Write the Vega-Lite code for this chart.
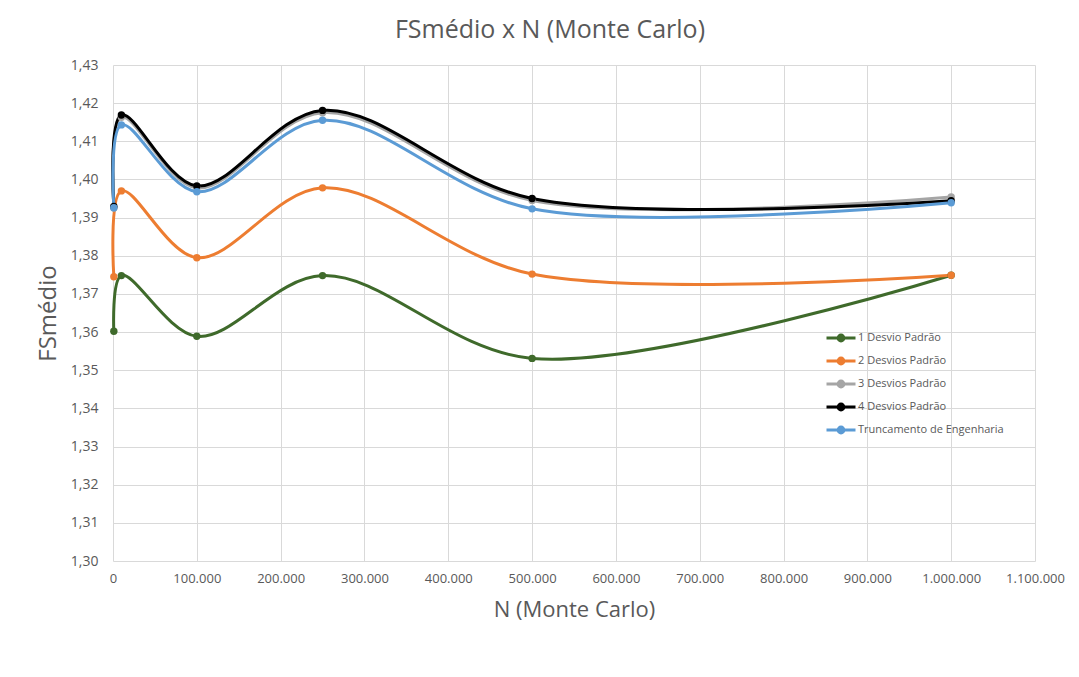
{
  "$schema": "https://vega.github.io/schema/vega-lite/v6.json",
  "width": 922,
  "height": 496,
  "autosize": "none",
  "padding": {"left": 113, "top": 65, "right": 44, "bottom": 116},
  "background": "white",
  "config": {
    "locale": {"number": {"decimal": ",", "thousands": ".", "grouping": [3], "currency": ["R$", ""]}},
    "view": {"stroke": null},
    "font": "Open Sans"
  },
  "title": {
    "text": "FSmédio x N (Monte Carlo)",
    "font": "Open Sans",
    "fontSize": 25,
    "fontWeight": "normal",
    "color": "#595959",
    "dx": -24,
    "offset": 15
  },
  "data": {
    "values": [
      {"N": 1000, "serie": "1 Desvio Padrão", "FS": 1.3602},
      {"N": 10000, "serie": "1 Desvio Padrão", "FS": 1.3748},
      {"N": 100000, "serie": "1 Desvio Padrão", "FS": 1.3589},
      {"N": 250000, "serie": "1 Desvio Padrão", "FS": 1.3748},
      {"N": 500000, "serie": "1 Desvio Padrão", "FS": 1.3531},
      {"N": 1000000, "serie": "1 Desvio Padrão", "FS": 1.3749},
      {"N": 1000, "serie": "2 Desvios Padrão", "FS": 1.3745},
      {"N": 10000, "serie": "2 Desvios Padrão", "FS": 1.397},
      {"N": 100000, "serie": "2 Desvios Padrão", "FS": 1.3795},
      {"N": 250000, "serie": "2 Desvios Padrão", "FS": 1.3978},
      {"N": 500000, "serie": "2 Desvios Padrão", "FS": 1.3752},
      {"N": 1000000, "serie": "2 Desvios Padrão", "FS": 1.3749},
      {"N": 1000, "serie": "3 Desvios Padrão", "FS": 1.3925},
      {"N": 10000, "serie": "3 Desvios Padrão", "FS": 1.4163},
      {"N": 100000, "serie": "3 Desvios Padrão", "FS": 1.3978},
      {"N": 250000, "serie": "3 Desvios Padrão", "FS": 1.4175},
      {"N": 500000, "serie": "3 Desvios Padrão", "FS": 1.3945},
      {"N": 1000000, "serie": "3 Desvios Padrão", "FS": 1.3954},
      {"N": 1000, "serie": "4 Desvios Padrão", "FS": 1.3929},
      {"N": 10000, "serie": "4 Desvios Padrão", "FS": 1.4169},
      {"N": 100000, "serie": "4 Desvios Padrão", "FS": 1.3983},
      {"N": 250000, "serie": "4 Desvios Padrão", "FS": 1.4181},
      {"N": 500000, "serie": "4 Desvios Padrão", "FS": 1.395},
      {"N": 1000000, "serie": "4 Desvios Padrão", "FS": 1.3944},
      {"N": 1000, "serie": "Truncamento de Engenharia", "FS": 1.3926},
      {"N": 10000, "serie": "Truncamento de Engenharia", "FS": 1.4143},
      {"N": 100000, "serie": "Truncamento de Engenharia", "FS": 1.3968},
      {"N": 250000, "serie": "Truncamento de Engenharia", "FS": 1.4155},
      {"N": 500000, "serie": "Truncamento de Engenharia", "FS": 1.3923},
      {"N": 1000000, "serie": "Truncamento de Engenharia", "FS": 1.3939}
    ]
  },
  "mark": {
    "type": "line",
    "interpolate": "catmull-rom",
    "strokeWidth": 3,
    "point": {"filled": true, "size": 55}
  },
  "encoding": {
    "x": {
      "field": "N",
      "type": "quantitative",
      "scale": {"domain": [0, 1100000], "nice": false, "zero": false},
      "axis": {
        "title": "N (Monte Carlo)",
        "titleFont": "Open Sans",
        "titleFontSize": 22,
        "titleFontWeight": "normal",
        "titleColor": "#595959",
        "titlePadding": 14,
        "values": [0, 100000, 200000, 300000, 400000, 500000, 600000, 700000, 800000, 900000, 1000000, 1100000],
        "format": ",d",
        "labelFont": "Open Sans",
        "labelFontSize": 13,
        "labelColor": "#595959",
        "labelPadding": 11,
        "labelFlush": false,
        "labelOverlap": false,
        "ticks": false,
        "domain": false,
        "grid": true,
        "gridColor": "#d9d9d9",
        "gridWidth": 1
      }
    },
    "y": {
      "field": "FS",
      "type": "quantitative",
      "scale": {"domain": [1.3, 1.43], "nice": false, "zero": false},
      "axis": {
        "title": "FSmédio",
        "titleFont": "Open Sans",
        "titleFontSize": 24,
        "titleFontWeight": "normal",
        "titleColor": "#595959",
        "titlePadding": 10,
        "values": [1.3, 1.31, 1.32, 1.33, 1.34, 1.35, 1.36, 1.37, 1.38, 1.39, 1.4, 1.41, 1.42, 1.43],
        "format": ".2f",
        "labelFont": "Open Sans",
        "labelFontSize": 14,
        "labelColor": "#595959",
        "labelPadding": 15,
        "labelFlush": false,
        "ticks": false,
        "domain": false,
        "grid": true,
        "gridColor": "#d9d9d9",
        "gridWidth": 1
      }
    },
    "color": {
      "field": "serie",
      "type": "nominal",
      "scale": {
        "domain": ["1 Desvio Padrão", "2 Desvios Padrão", "3 Desvios Padrão", "4 Desvios Padrão", "Truncamento de Engenharia"],
        "range": ["#3f6a2b", "#ed7d31", "#a5a5a5", "#000000", "#5b9bd5"]
      },
      "legend": {
        "title": null,
        "orient": "none",
        "legendX": 712,
        "legendY": 265,
        "labelFont": "Open Sans",
        "labelFontSize": 11,
        "labelColor": "#595959",
        "labelOffset": 1,
        "symbolType": "M-1,0H1M0.2,0A0.2,0.2,0,1,1,-0.2,0A0.2,0.2,0,1,1,0.2,0Z",
        "symbolSize": 841,
        "symbolStrokeWidth": 3,
        "clipHeight": 16,
        "rowPadding": 7,
        "encode": {"symbols": {"update": {"fill": {"scale": "color", "field": "value"}, "stroke": {"scale": "color", "field": "value"}}}}
      }
    },
    "order": {"field": "serie"}
  }
}
